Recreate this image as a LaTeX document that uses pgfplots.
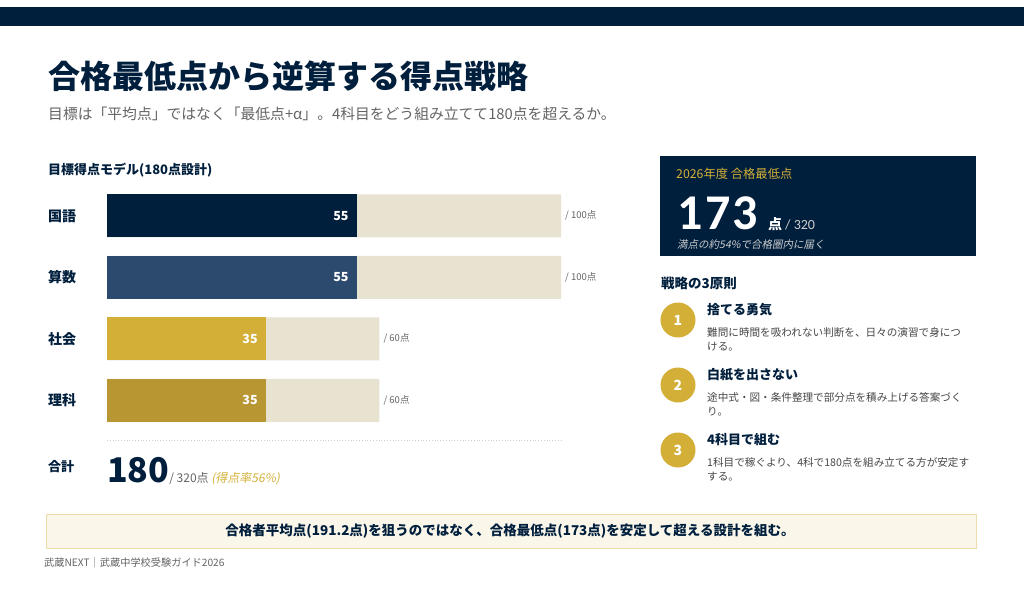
\documentclass[border=0pt]{standalone}
\usepackage{fontspec}
\setmainfont{Noto Sans CJK JP}
\newfontfamily\jpit[FakeSlant=0.2]{Noto Sans CJK JP}
\newfontfamily\carl{Carlito}
\usepackage{pgfplots}
\pgfplotsset{compat=1.18}
\definecolor{navy}{RGB}{0,31,61}
\definecolor{navytwo}{RGB}{44,74,110}
\definecolor{gold}{RGB}{212,175,55}
\definecolor{goldtwo}{RGB}{184,150,50}
\definecolor{bgbar}{RGB}{232,226,208}
\definecolor{graytxt}{RGB}{100,100,100}
\definecolor{desctxt}{RGB}{70,70,70}
\definecolor{bannerfill}{RGB}{250,246,234}
\definecolor{bannerdraw}{RGB}{235,220,170}
\definecolor{lightgray}{RGB}{205,205,205}
\newcommand\fs[1]{\fontsize{#1}{#1}\selectfont}
\begin{document}
\begin{tikzpicture}
\useasboundingbox (0,0) rectangle (1024pt,-589pt);
\fill[white] (0,0) rectangle (1024pt,-589pt);
\fill[navy] (0,-7pt) rectangle (1024pt,-26pt);
% title
\node[anchor=west,inner sep=0,text=navy,font=\fs{32}\bfseries] at (48pt,-76pt) {合格最低点から逆算する得点戦略};
\node[anchor=west,inner sep=0,text=graytxt,font=\fs{14.8}] at (48pt,-114pt) {目標は「平均点」ではなく「最低点+α」。4科目をどう組み立てて180点を超えるか。};
% chart
\node[anchor=west,inner sep=0,text=navy,font=\fs{13}\bfseries] at (48pt,-170pt) {目標得点モデル(180点設計)};
\node[anchor=west,inner sep=0,text=navy,font=\fs{14}\bfseries] at (48pt,-216pt) {国語};
\node[anchor=west,inner sep=0,text=navy,font=\fs{14}\bfseries] at (48pt,-277pt) {算数};
\node[anchor=west,inner sep=0,text=navy,font=\fs{14}\bfseries] at (48pt,-339pt) {社会};
\node[anchor=west,inner sep=0,text=navy,font=\fs{14}\bfseries] at (48pt,-400pt) {理科};
\begin{axis}[at={(107pt,-185pt)}, anchor=north west, scale only axis,
  width=454pt, height=246pt, xmin=0, xmax=100, ymin=-0.5, ymax=3.5,
  y dir=reverse, hide axis, clip=false, xbar, bar width=43pt, bar shift=0pt,
  /pgf/number format/assume math mode=true]
\addplot[fill=bgbar, draw=none, nodes near coords, point meta=explicit symbolic,
  every node near coord/.append style={anchor=west, inner sep=0pt, xshift=4pt, font=\fs{9.5}, text=graytxt}]
  coordinates {(100,0) [/ 100点] (100,1) [/ 100点] (60,2) [/ 60点] (60,3) [/ 60点]};
\addplot[fill=navy, draw=none, nodes near coords, point meta=x,
  every node near coord/.append style={anchor=east, inner sep=0pt, xshift=-8pt, font=\fs{12.5}\bfseries, text=white}]
  coordinates {(55,0)};
\addplot[fill=navytwo, draw=none, nodes near coords, point meta=x,
  every node near coord/.append style={anchor=east, inner sep=0pt, xshift=-8pt, font=\fs{12.5}\bfseries, text=white}]
  coordinates {(55,1)};
\addplot[fill=gold, draw=none, nodes near coords, point meta=x,
  every node near coord/.append style={anchor=east, inner sep=0pt, xshift=-8pt, font=\fs{12.5}\bfseries, text=white}]
  coordinates {(35,2)};
\addplot[fill=goldtwo, draw=none, nodes near coords, point meta=x,
  every node near coord/.append style={anchor=east, inner sep=0pt, xshift=-8pt, font=\fs{12.5}\bfseries, text=white}]
  coordinates {(35,3)};
\end{axis}
\draw[lightgray, dotted, line width=0.8pt] (107pt,-440pt) -- (561pt,-440pt);
\node[anchor=west,inner sep=0,text=navy,font=\fs{13}\bfseries] at (48pt,-467pt) {合計};
\node[anchor=base west,inner sep=0] at (107pt,-482pt) {{\fs{34}\bfseries\color{navy}180}{\fs{12}\color{graytxt} / 320点 }{\fs{12}\jpit\color{gold}(得点率56\%)}};
% right box
\fill[navy] (660pt,-156pt) rectangle (976pt,-256pt);
\node[anchor=west,inner sep=0,text=gold,font=\fs{12.3}] at (676pt,-174pt) {2026年度 合格最低点};
\node[anchor=base west,inner sep=0,text depth=0pt,text=white,font=\carl\fs{50}\bfseries] at (677pt,-229pt) {1\hspace{2.5pt}7\hspace{2.5pt}3};
\node[anchor=base west,inner sep=0,text depth=0pt,text=white] at (768pt,-229pt) {{\fs{14}\bfseries 点}\hspace{3pt}{\carl\fs{14}\color{lightgray}/ 320}};
\node[anchor=west,inner sep=0,text=lightgray,font=\fs{10.5}\jpit] at (677pt,-244.5pt) {満点の約54\%で合格圏内に届く};
\node[anchor=west,inner sep=0,text=navy,font=\fs{13.5}\bfseries] at (661pt,-283pt) {戦略の3原則};
% principles
\foreach \yy/\num in {320/1,385/2,450/3}{
  \fill[gold] (678pt,-\yy pt) circle (17.5pt);
  \node[text=white,font=\fs{14}\bfseries] at (678pt,-\yy pt) {\num};
}
\node[anchor=west,inner sep=0,text=navy,font=\fs{13}\bfseries] at (707pt,-310pt) {捨てる勇気};
\node[anchor=west,inner sep=0,text=navy,font=\fs{13}\bfseries] at (707pt,-375pt) {白紙を出さない};
\node[anchor=west,inner sep=0,text=navy,font=\fs{13}\bfseries] at (707pt,-440pt) {4科目で組む};
\node[anchor=north west,inner sep=0,text=desctxt,align=left,font=\fontsize{10.6}{13.5}\selectfont] at (707pt,-327.5pt) {難問に時間を吸われない判断を、日々の演習で身につ\\ける。};
\node[anchor=north west,inner sep=0,text=desctxt,align=left,font=\fontsize{10.6}{13.5}\selectfont] at (707pt,-392.5pt) {途中式・図・条件整理で部分点を積み上げる答案づく\\り。};
\node[anchor=north west,inner sep=0,text=desctxt,align=left,font=\fontsize{10.6}{13.5}\selectfont] at (707pt,-457.5pt) {1科目で稼ぐより、4科で180点を組み立てる方が安定す\\する。};
% banner
\filldraw[fill=bannerfill, draw=bannerdraw, line width=0.8pt] (46pt,-514pt) rectangle (976pt,-548pt);
\node[text=navy,font=\fs{13.5}\bfseries,inner sep=0] at (510pt,-531pt) {合格者平均点(191.2点)を狙うのではなく、合格最低点(173点)を安定して超える設計を組む。};
\node[anchor=west,inner sep=0,text=graytxt,font=\fs{10.2}] at (44pt,-563pt) {武蔵NEXT｜武蔵中学校受験ガイド2026};
\end{tikzpicture}
\end{document}
